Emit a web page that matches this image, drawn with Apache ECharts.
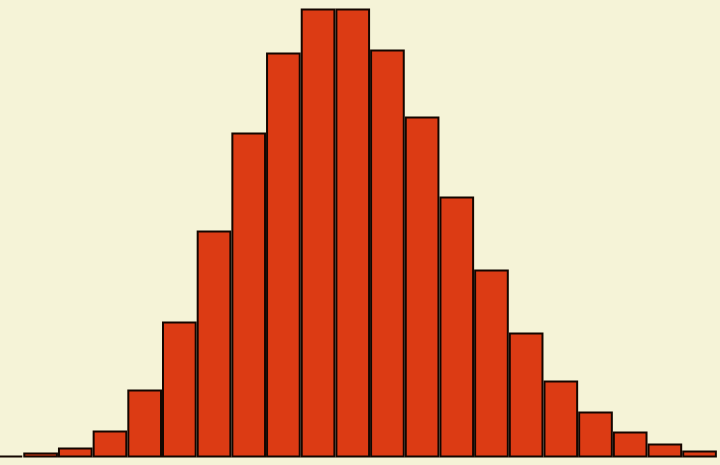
<!DOCTYPE html>
<html>
<head>
<meta charset="utf-8">
<script src="https://cdn.jsdelivr.net/npm/echarts@6/dist/echarts.min.js"></script>
<style>html,body{margin:0;padding:0;background:#f5f3d7;}#c{width:720px;height:465px;}</style>
</head>
<body>
<div id="c"></div>
<script>
const binIndex = [0, 1, 2, 3, 4, 5, 6, 7, 8, 9, 10, 11, 12, 13, 14, 15, 16, 17, 18, 19, 20];
const counts = [2, 5, 10, 27, 68, 136, 227, 325, 405, 449, 449, 408, 341, 261, 188, 125, 77, 46, 26, 14, 7];
const yMax = 457.5;
const xMin = -0.1713;
const xMax = 20.590;

const chart = echarts.init(document.getElementById('c'), null, {renderer: 'canvas'});
chart.setOption({
  backgroundColor: '#f5f3d7',
  animation: false,
  grid: {left: 0, right: 0, top: 0, bottom: 7.5, containLabel: false},
  xAxis: {type: 'value', min: xMin, max: xMax, show: false},
  yAxis: {type: 'value', min: 0, max: yMax, show: false},
  series: [{
    type: 'bar',
    data: binIndex.map((b, i) => [b, counts[i]]),
    barWidth: 34.68,
    itemStyle: {color: '#dc3b14', borderColor: '#140600', borderWidth: 2}
  }]
});
</script>
</body>
</html>
